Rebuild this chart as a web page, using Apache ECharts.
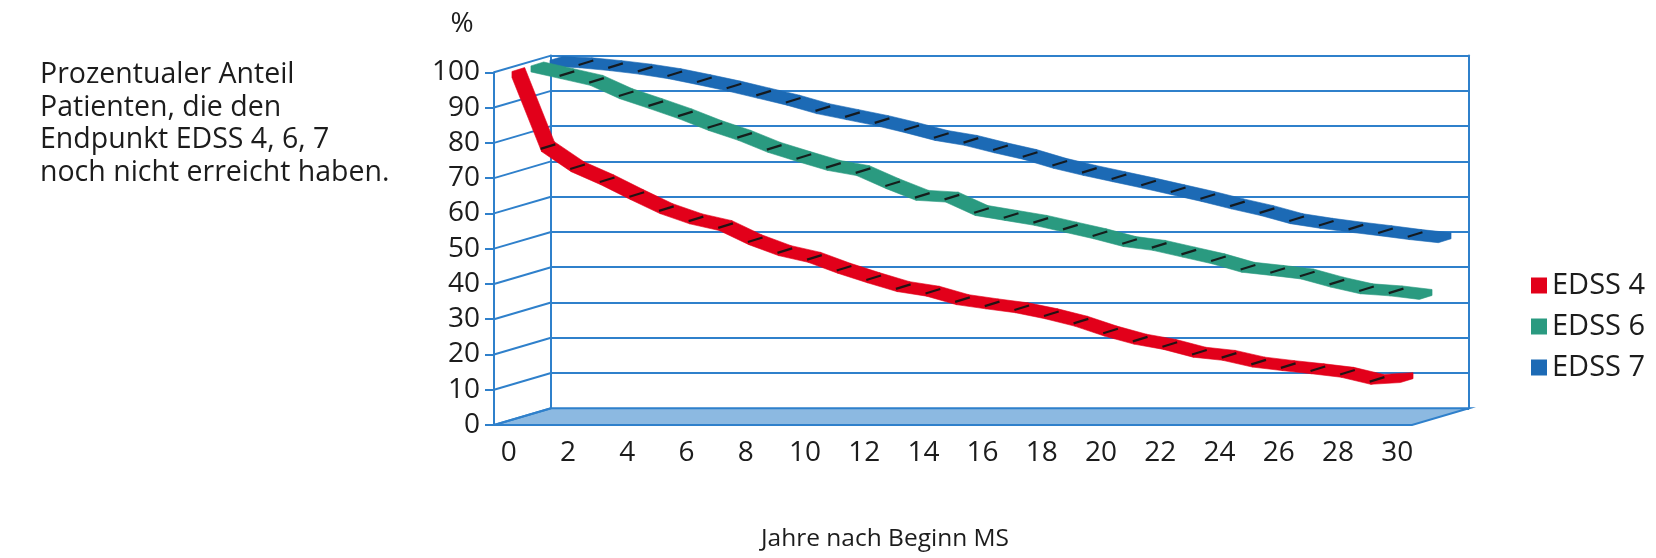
<!DOCTYPE html>
<html>
<head>
<meta charset="utf-8">
<script src="https://cdn.jsdelivr.net/npm/echarts@6/dist/echarts.min.js"></script>
<style>
  html, body { margin: 0; padding: 0; background: #ffffff; }
  #chart { width: 1656px; height: 558px; }
</style>
</head>
<body>
<div id="chart"></div>
<script>
// Years since onset of MS (category axis)
const years = ['0','1','2','3','4','5','6','7','8','9','10','11','12','13','14','15',
               '16','17','18','19','20','21','22','23','24','25','26','27','28','29','30'];

// Share of patients (%) that have not yet reached the endpoint
const edss4 = [100, 79, 73.3, 69.6, 65.4, 61.4, 58.5, 56.6, 52.6, 49.5, 47.6, 44.5, 41.8, 39.3, 38, 35.6,
               34.4, 33.3, 31.6, 29.5, 26.7, 24.4, 22.9, 20.7, 19.8, 17.9, 16.9, 16, 15, 13, 13.5];
const edss6 = [100, 98.1, 96.2, 92.4, 89.6, 86.7, 83.4, 80.6, 77.2, 74.6, 72.1, 70.6, 66.9, 63.6, 63.1, 59.3,
               57.9, 56.5, 54.6, 52.7, 50.5, 49.4, 47.5, 45.6, 43.2, 42.3, 41.3, 39, 37.1, 36.5, 35.5];
const edss7 = [100, 99.6, 98.8, 97.8, 96.5, 94.8, 93, 91, 89, 86.6, 84.9, 83.2, 81.2, 79, 77.6, 75.5,
               73.6, 71.1, 69.1, 67.3, 65.5, 63.6, 61.7, 59.6, 57.7, 55.4, 54.1, 53, 52, 50.9, 50];

const seriesNames = ['EDSS 4', 'EDSS 6', 'EDSS 7'];
const yTicks = [0, 10, 20, 30, 40, 50, 60, 70, 80, 90, 100];

const FONT = '"Open Sans", "Noto Sans", sans-serif';
const INK = '#1c1c1c';
const WALL = '#2f80cb';
const FLOOR = '#8cb9e1';
const COLORS = { 'EDSS 4': '#e2001a', 'EDSS 6': '#2a9a80', 'EDSS 7': '#1c6ab5' };

// Pseudo-3D box: screen offset from the front plane to the back wall
const DEPTH = [57, -16.7];
// Each series occupies one depth slot; its ribbon fills part of the slot
const SLOT = [DEPTH[0] / 3, DEPTH[1] / 3];
const TAPE = [12.7, -3.9];
const THICK = 6;

const FRONT = { left: 494, top: 72.3, width: 918, height: 352.7 };
const BACK = { left: FRONT.left + DEPTH[0], top: FRONT.top + DEPTH[1], width: FRONT.width, height: FRONT.height };

// convex hull (monotone chain) used to outline one ribbon segment
function hull(pts) {
  pts = pts.slice().sort((p, q) => p[0] - q[0] || p[1] - q[1]);
  const cross = (o, a, b) => (a[0] - o[0]) * (b[1] - o[1]) - (a[1] - o[1]) * (b[0] - o[0]);
  const lower = [], upper = [];
  for (const p of pts) {
    while (lower.length >= 2 && cross(lower[lower.length - 2], lower[lower.length - 1], p) <= 0) lower.pop();
    lower.push(p);
  }
  for (let i = pts.length - 1; i >= 0; i--) {
    const p = pts[i];
    while (upper.length >= 2 && cross(upper[upper.length - 2], upper[upper.length - 1], p) <= 0) upper.pop();
    upper.push(p);
  }
  upper.pop(); lower.pop();
  return lower.concat(upper);
}

function ribbon(name, values, slotIndex) {
  const off = [SLOT[0] * slotIndex + (SLOT[0] - TAPE[0]) / 2,
               SLOT[1] * slotIndex + (SLOT[1] - TAPE[1]) / 2];
  const data = values.slice(0, -1).map((v, i) => [i, v, values[i + 1]]);
  const color = COLORS[name];
  return {
    type: 'custom',
    name: name,
    xAxisIndex: 0,
    yAxisIndex: 0,
    itemStyle: { color: color },
    encode: { x: 0, y: [1, 2] },
    data: data,
    renderItem: function (params, api) {
      const i = api.value(0);
      const p = api.coord([i, api.value(1)]);
      const q = api.coord([i + 1, api.value(2)]);
      const a = [p[0] + off[0], p[1] + off[1]];
      const b = [q[0] + off[0], q[1] + off[1]];
      const corners = [];
      [a, b].forEach(function (c) {
        corners.push([c[0], c[1]]);
        corners.push([c[0] + TAPE[0], c[1] + TAPE[1]]);
        corners.push([c[0], c[1] + THICK]);
        corners.push([c[0] + TAPE[0], c[1] + TAPE[1] + THICK]);
      });
      const children = [{
        type: 'polygon',
        shape: { points: hull(corners) },
        style: { fill: color, stroke: color, lineWidth: 0.6 }
      }];
      if (i > 0) {
        const m = THICK * 0.5;
        children.push({
          type: 'line',
          shape: { x1: a[0] - 1, y1: a[1] + m + 0.3, x2: a[0] + TAPE[0] + 1, y2: a[1] + TAPE[1] + m - 0.3 },
          style: { stroke: 'rgba(20,20,20,0.92)', lineWidth: 2.2 }
        });
      }
      return { type: 'group', children: children };
    }
  };
}

// Floor and the slanted lines of the left side wall
const frameSeries = {
  type: 'custom',
  name: 'frame',
  xAxisIndex: 0,
  yAxisIndex: 0,
  silent: true,
  encode: { x: 0, y: 1 },
  data: [[0, 0]],
  renderItem: function (params, api) {
    const half = api.size([1, 0])[0] / 2;
    const x0 = api.coord([0, 0])[0] - half;
    const x1 = api.coord([years.length - 1, 0])[0] + half;
    const y = function (v) { return api.coord([0, v])[1]; };
    const children = [{
      type: 'polygon',
      shape: { points: [[x0, y(0)], [x1, y(0)], [x1 + DEPTH[0], y(0) + DEPTH[1]], [x0 + DEPTH[0], y(0) + DEPTH[1]]] },
      style: { fill: FLOOR, stroke: WALL, lineWidth: 2 }
    }];
    yTicks.forEach(function (v) {
      children.push({
        type: 'line',
        shape: { x1: x0, y1: y(v), x2: x0 + DEPTH[0], y2: y(v) + DEPTH[1] },
        style: { stroke: WALL, lineWidth: 2 }
      });
    });
    return { type: 'group', children: children };
  }
};

const chart = echarts.init(document.getElementById('chart'), null, { renderer: 'canvas' });

chart.setOption({
  animation: false,
  backgroundColor: '#ffffff',
  textStyle: { fontFamily: FONT },
  grid: [
    { left: FRONT.left, top: FRONT.top, width: FRONT.width, height: FRONT.height },
    { left: BACK.left, top: BACK.top, width: BACK.width, height: BACK.height }
  ],
  xAxis: [
    {
      type: 'category', gridIndex: 0, data: years, boundaryGap: true,
      axisLine: { show: false }, axisTick: { show: false },
      axisLabel: { interval: 1, margin: 14, fontSize: 28, color: INK, fontFamily: FONT },
      splitLine: { show: false }
    },
    {
      type: 'category', gridIndex: 1, data: years, boundaryGap: true, show: false
    }
  ],
  yAxis: [
    {
      type: 'value', gridIndex: 0, min: 0, max: 100, interval: 10,
      axisLine: { show: true, lineStyle: { color: WALL, width: 2 } },
      axisTick: { show: true, length: 9, lineStyle: { color: WALL, width: 2 } },
      axisLabel: { margin: 14, fontSize: 28, color: INK, fontFamily: FONT },
      splitLine: { show: false }
    },
    {
      type: 'value', gridIndex: 1, min: 0, max: 100, interval: 10,
      axisLine: { show: true, lineStyle: { color: WALL, width: 2 } },
      axisTick: { show: false }, axisLabel: { show: false },
      splitLine: { show: true, lineStyle: { color: WALL, width: 2 } }
    },
    {
      type: 'value', gridIndex: 1, position: 'right', min: 0, max: 100, interval: 10,
      axisLine: { show: true, lineStyle: { color: WALL, width: 2 } },
      axisTick: { show: false }, axisLabel: { show: false }, splitLine: { show: false }
    }
  ],
  legend: {
    orient: 'vertical',
    left: 1526,
    top: 266,
    itemWidth: 16,
    itemHeight: 16,
    itemGap: 12,
    icon: 'rect',
    textStyle: { fontSize: 29, color: INK, fontFamily: FONT, lineHeight: 29 },
    data: seriesNames.map(function (n) { return { name: n, itemStyle: { color: COLORS[n] } }; })
  },
  graphic: [
    {
      type: 'text', left: 40, top: 59,
      style: {
        text: 'Prozentualer Anteil\nPatienten, die den\nEndpunkt EDSS 4, 6, 7\nnoch nicht erreicht haben.',
        font: '28.5px ' + FONT, fill: INK, lineHeight: 32.5
      }
    },
    {
      type: 'text', x: 462, y: 24,
      style: { text: '%', font: '28px ' + FONT, fill: INK, align: 'center', verticalAlign: 'middle' }
    },
    {
      type: 'text', x: 885, y: 539,
      style: { text: 'Jahre nach Beginn MS', font: '24.5px ' + FONT, fill: INK, align: 'center', verticalAlign: 'middle' }
    }
  ],
  series: [
    frameSeries,
    ribbon('EDSS 7', edss7, 2),
    ribbon('EDSS 6', edss6, 1),
    ribbon('EDSS 4', edss4, 0)
  ]
});
</script>
</body>
</html>
